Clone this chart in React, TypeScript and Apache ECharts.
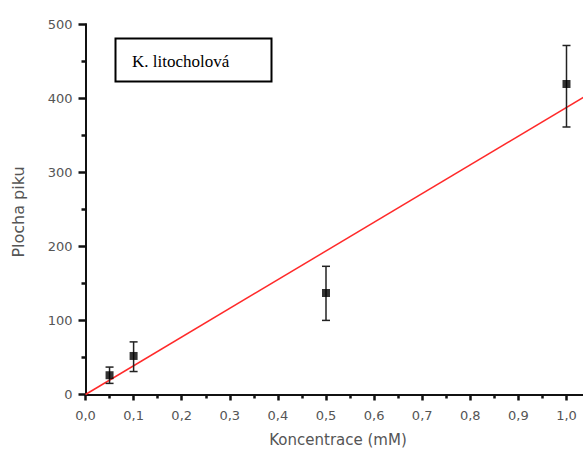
import React, { useEffect, useRef } from "react";
import * as echarts from "echarts";

const concentrations = [0.05, 0.1, 0.5, 1.0];
const peakAreas = [26, 52, 137, 419];
const errLow = [15, 31, 100, 361];
const errHigh = [37, 71, 173, 471];
const fitLine: [number, number][] = [
  [0, 0],
  [1.035, 401],
];
const legendText = "K. litocholová";
const xTitle = "Koncentrace (mM)";
const yTitle = "Plocha piku";

const W = 620;

export default function App() {
  const ref = useRef<HTMLDivElement>(null);
  useEffect(() => {
    if (!ref.current) return;
    const chart = echarts.init(ref.current, null, { renderer: "svg" });
    const axisColor = "#111";
    const labelColor = "#555";
    const font = "DejaVu Sans";
    const tickStyle = { color: axisColor, width: 2.5 };
    chart.setOption({
      animation: false,
      grid: { left: 85.5, top: 24, right: W - (85.5 + 1.1 * 481), bottom: 55.5 },
      xAxis: {
        type: "value",
        min: 0,
        max: 1.1,
        interval: 0.1,
        splitLine: { show: false },
        axisLine: { show: true, onZero: false, lineStyle: { color: axisColor, width: 2 } },
        axisTick: { show: true, inside: true, length: -6, lineStyle: tickStyle },
        minorTick: { show: true, splitNumber: 2, length: -4, lineStyle: tickStyle },
        axisLabel: {
          margin: 14,
          color: labelColor,
          fontFamily: font,
          fontSize: 13,
          showMaxLabel: false,
          formatter: (v: number) => (v > 1.0001 ? "" : v.toFixed(1).replace(".", ",")),
        },
      },
      yAxis: {
        type: "value",
        min: 0,
        max: 500,
        interval: 100,
        splitLine: { show: false },
        axisLine: { show: true, onZero: false, lineStyle: { color: axisColor, width: 2 } },
        axisTick: { show: true, inside: true, length: -7, lineStyle: tickStyle },
        minorTick: { show: true, splitNumber: 2, length: -4, lineStyle: tickStyle },
        axisLabel: { margin: 13, color: labelColor, fontFamily: font, fontSize: 13 },
      },
      series: [
        {
          type: "line",
          data: fitLine,
          symbol: "none",
          lineStyle: { color: "#ff2a2a", width: 1.5 },
          z: 1,
        },
        {
          type: "custom",
          data: concentrations.map((c, i) => [c, errLow[i], errHigh[i]]),
          renderItem: (params: any, api: any) => {
            const x = api.value(0);
            const lo = api.coord([x, api.value(1)]);
            const hi = api.coord([x, api.value(2)]);
            const hw = 4;
            const style = { stroke: "#222", lineWidth: 1.5 };
            return {
              type: "group",
              children: [
                { type: "line", shape: { x1: lo[0], y1: lo[1], x2: hi[0], y2: hi[1] }, style },
                { type: "line", shape: { x1: lo[0] - hw, y1: lo[1], x2: lo[0] + hw, y2: lo[1] }, style },
                { type: "line", shape: { x1: hi[0] - hw, y1: hi[1], x2: hi[0] + hw, y2: hi[1] }, style },
              ],
            };
          },
          z: 2,
        },
        {
          type: "scatter",
          data: concentrations.map((c, i) => [c, peakAreas[i]]),
          symbol: "rect",
          symbolSize: 8,
          itemStyle: { color: "#000" },
          z: 3,
        },
      ],
      graphic: [
        {
          type: "rect",
          shape: { x: 115.5, y: 38.5, width: 156, height: 43 },
          style: { fill: "#fff", stroke: "#000", lineWidth: 2 },
        },
        {
          type: "text",
          x: 132,
          y: 61,
          style: {
            text: legendText,
            font: '17px "Liberation Serif", "Times New Roman", serif',
            fill: "#000",
            verticalAlign: "middle",
          },
        },
        {
          type: "text",
          x: 338,
          y: 440,
          style: {
            text: xTitle,
            fontFamily: font,
            fontSize: 15,
            fill: labelColor,
            align: "center",
            verticalAlign: "middle",
          },
        },
        {
          type: "text",
          x: 18,
          y: 212,
          rotation: Math.PI / 2,
          style: {
            text: yTitle,
            fontFamily: font,
            fontSize: 16,
            fill: labelColor,
            align: "center",
            verticalAlign: "middle",
          },
        },
      ],
    });
    return () => chart.dispose();
  }, []);
  return (
    <div style={{ position: "fixed", left: 0, top: 0, width: 583, height: 450, overflow: "hidden", background: "#fff" }}>
      <div ref={ref} style={{ width: W, height: 450 }} />
    </div>
  );
}
